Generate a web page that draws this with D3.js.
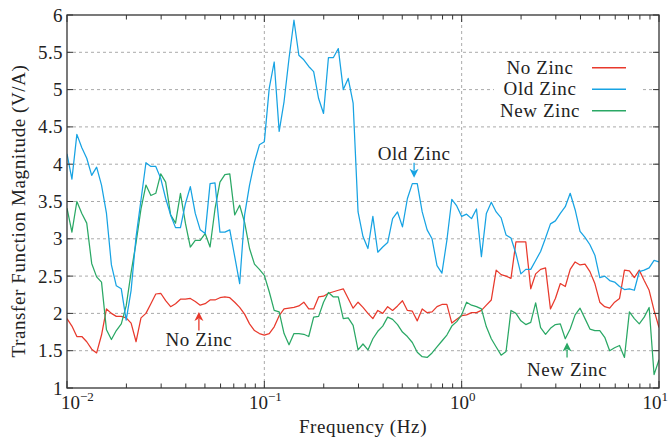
<!DOCTYPE html>
<html><head><meta charset="utf-8">
<script src="https://cdn.jsdelivr.net/npm/d3@7"></script>
<style>
html,body{margin:0;padding:0;background:#fff;}
</style></head>
<body>
<script>
// Frequency grid (Hz)
const freq = [0.01000,0.01059,0.01122,0.01189,0.01259,0.01334,0.01413,0.01496,0.01585,0.01679,
0.01778,0.01884,0.01995,0.02113,0.02239,0.02371,0.02512,0.02661,0.02818,0.02985,
0.03162,0.03350,0.03548,0.03758,0.03981,0.04217,0.04467,0.04732,0.05012,0.05309,
0.05623,0.05957,0.06310,0.06683,0.07079,0.07499,0.07943,0.08414,0.08913,0.09441,
0.1000,0.1059,0.1122,0.1189,0.1259,0.1334,0.1413,0.1496,0.1585,0.1679,
0.1778,0.1884,0.1995,0.2113,0.2239,0.2371,0.2512,0.2661,0.2818,0.2985,
0.3162,0.3350,0.3548,0.3758,0.3981,0.4217,0.4467,0.4732,0.5012,0.5309,
0.5623,0.5957,0.6310,0.6683,0.7079,0.7499,0.7943,0.8414,0.8913,0.9441,
1.000,1.059,1.122,1.189,1.259,1.334,1.413,1.496,1.585,1.679,
1.778,1.884,1.995,2.113,2.239,2.371,2.512,2.661,2.818,2.985,
3.162,3.350,3.548,3.758,3.981,4.217,4.467,4.732,5.012,5.309,
5.623,5.957,6.310,6.683,7.079,7.499,7.943,8.414,8.913,9.441,
10.00];

const noZinc = [1.93,1.83,1.69,1.69,1.62,1.52,1.47,1.71,2.06,2.00,
1.96,1.96,1.94,1.87,1.62,1.94,2.00,2.13,2.26,2.27,
2.17,2.09,2.13,2.19,2.19,2.20,2.16,2.11,2.13,2.18,
2.18,2.21,2.22,2.21,2.15,2.08,1.99,1.86,1.77,1.73,
1.71,1.73,1.82,1.97,2.06,2.07,2.08,2.10,2.15,2.06,
2.06,2.22,2.23,2.27,2.29,2.31,2.33,2.20,2.07,2.15,
2.08,2.00,1.93,2.04,2.00,2.09,2.04,2.10,2.17,2.04,
2.03,1.90,2.06,2.01,2.02,2.09,2.12,2.12,1.87,1.92,
1.97,1.98,2.01,2.01,2.04,2.11,2.18,2.58,2.52,2.50,
2.47,2.96,2.96,2.96,2.33,2.53,2.59,2.61,2.06,2.20,
2.40,2.36,2.59,2.69,2.65,2.66,2.56,2.40,2.15,2.09,
2.07,2.15,2.20,2.58,2.57,2.48,2.58,2.44,2.31,2.04,
1.81];

const oldZinc = [4.14,3.80,4.40,4.22,4.08,3.85,3.96,3.72,3.34,2.65,
2.37,2.33,1.91,2.31,3.03,3.52,4.02,3.97,3.97,3.81,
3.54,3.32,3.15,3.15,3.47,3.70,3.34,3.12,3.07,3.74,
3.75,3.09,3.09,3.12,2.76,2.40,3.32,3.72,4.03,4.26,
4.30,5.02,5.37,4.44,4.84,5.42,5.93,5.46,5.40,5.31,
5.24,4.88,4.68,5.43,5.43,5.55,5.00,5.15,4.82,3.36,
3.03,2.87,3.30,2.82,2.89,2.95,3.27,3.36,3.16,3.54,
3.74,3.74,3.36,3.12,3.00,2.64,2.54,2.98,3.53,3.44,
3.30,3.33,3.27,3.40,2.76,3.34,3.49,3.36,3.28,3.05,
3.01,2.80,2.53,2.59,2.59,2.71,2.83,3.01,3.20,3.24,
3.34,3.43,3.61,3.39,3.10,3.02,2.92,2.78,2.48,2.50,
2.44,2.42,2.36,2.32,2.33,2.31,2.56,2.58,2.61,2.71,
2.69];

const newZinc = [3.41,3.09,3.50,3.34,3.21,2.67,2.49,2.42,1.78,1.65,
1.77,1.86,2.10,2.55,2.95,3.40,3.72,3.58,3.61,3.87,
3.76,3.32,3.21,3.61,3.21,2.89,2.98,2.98,3.07,2.89,
3.40,3.76,3.86,3.87,3.32,3.45,3.22,2.87,2.66,2.59,
2.51,2.29,2.04,2.02,1.73,1.58,1.73,1.73,1.72,1.69,
1.95,1.96,2.15,2.28,2.22,2.22,1.93,1.94,1.84,1.51,
1.59,1.51,1.66,1.76,1.83,1.95,1.92,1.85,1.75,1.69,
1.61,1.48,1.42,1.41,1.47,1.55,1.63,1.71,1.83,1.89,
1.98,2.15,2.11,2.09,2.06,1.82,1.66,1.55,1.44,1.49,
2.04,2.00,1.90,1.85,1.88,2.14,1.81,1.72,1.80,1.85,
1.86,1.66,1.79,1.98,2.07,1.93,1.79,1.77,1.77,1.68,
1.50,1.54,1.57,1.41,2.02,1.93,1.86,1.95,2.08,1.18,
1.38];

const seriesNames = ["No Zinc","Old Zinc","New Zinc"];
const seriesColors = ["#e8392c","#17a3e3","#2aa865"];
const yTicks = [1,1.5,2,2.5,3,3.5,4,4.5,5,5.5,6];
const xMajor = [0.01,0.1,1,10];
const xMajorExp = ["−2","−1","0","1"];
// annotations: label, frequency, arrow tail value, arrow tip value, label baseline value, series index
const annotations = [
  {label:"No Zinc", f:0.0466, from:1.77, to:2.02, text:1.56, c:0},
  {label:"Old Zinc", f:0.574, from:4.02, to:3.82, text:4.06, c:1},
  {label:"New Zinc", f:3.42, from:1.41, to:1.61, text:1.16, c:2}
];

const FONT = "'Liberation Serif','DejaVu Serif','Times New Roman',serif";
const W=669,H=445;
const svg=d3.select("body").append("svg").attr("width",W).attr("height",H)
  .attr("font-family",FONT);
const x=d3.scaleLog().domain([0.01,10]).range([67,659]);
const y=d3.scaleLinear().domain([1,6]).range([388,15]);

function txt(sel){return sel.append("text").attr("font-family",FONT).attr("fill","#222");}

// grid
svg.append("g").selectAll("line").data(yTicks.filter(d=>d>1&&d<6)).join("line")
 .attr("x1",x(0.01)).attr("x2",x(10)).attr("y1",d=>y(d)).attr("y2",d=>y(d))
 .attr("stroke","#a0a0a0").attr("stroke-width",0.9).attr("stroke-dasharray","3,3");
svg.append("g").selectAll("line").data([0.1,1]).join("line")
 .attr("x1",d=>x(d)).attr("x2",d=>x(d)).attr("y1",y(1)).attr("y2",y(6))
 .attr("stroke","#a0a0a0").attr("stroke-width",0.9).attr("stroke-dasharray","3,3");

// lines
const data=[noZinc,oldZinc,newZinc];
const line=d3.line().x((d,i)=>x(freq[i])).y(d=>y(d));
svg.append("clipPath").attr("id","pc").append("rect")
 .attr("x",x(0.01)).attr("y",y(6)).attr("width",x(10)-x(0.01)).attr("height",y(1)-y(6));
const lg=svg.append("g").attr("clip-path","url(#pc)");
[0,2,1].forEach(i=>{
 lg.append("path").datum(data[i]).attr("d",line).attr("fill","none")
  .attr("stroke",seriesColors[i]).attr("stroke-width",1.25).attr("stroke-linejoin","round");
});

// annotations
annotations.forEach(a=>{
 const col=seriesColors[a.c];
 const xx=x(a.f), y1=y(a.from), y2=y(a.to);
 const dir = y2<y1 ? -1 : 1;
 svg.append("line").attr("x1",xx).attr("x2",xx).attr("y1",y1).attr("y2",y2-dir*7)
  .attr("stroke",col).attr("stroke-width",1.3);
 svg.append("path").attr("d",`M${xx},${y2} L${xx-4.5},${y2-dir*9} L${xx},${y2-dir*6.5} L${xx+4.5},${y2-dir*9} Z`)
  .attr("fill",col);
 txt(svg).attr("x",xx).attr("y",y(a.text)).attr("text-anchor","middle")
  .attr("font-size",19).attr("letter-spacing",0.6).text(a.label);
});

// legend
const lgx=540;
svg.append("rect").attr("x",494).attr("y",56).attr("width",146).attr("height",66).attr("fill","#fff");
seriesNames.forEach((n,i)=>{
 const yy=67.7+i*21.5;
 txt(svg).attr("x",lgx).attr("y",yy+6).attr("text-anchor","middle")
  .attr("font-size",19).attr("letter-spacing",0.6).text(n);
 svg.append("line").attr("x1",592).attr("x2",626).attr("y1",yy).attr("y2",yy)
  .attr("stroke",seriesColors[i]).attr("stroke-width",1.4);
});

// frame
const ax="#333";
svg.append("rect").attr("x",x(0.01)).attr("y",y(6)).attr("width",x(10)-x(0.01)).attr("height",y(1)-y(6))
 .attr("fill","none").attr("stroke",ax).attr("stroke-width",1.3);
x.ticks().forEach(t=>{
 const maj=xMajor.some(m=>Math.abs(m-t)/m<1e-6);
 const len=maj?7:4.5;
 svg.append("line").attr("x1",x(t)).attr("x2",x(t)).attr("y1",y(1)).attr("y2",y(1)-len).attr("stroke",ax).attr("stroke-width",1);
 svg.append("line").attr("x1",x(t)).attr("x2",x(t)).attr("y1",y(6)).attr("y2",y(6)+len).attr("stroke",ax).attr("stroke-width",1);
});
yTicks.forEach(t=>{
 svg.append("line").attr("x1",x(0.01)).attr("x2",x(0.01)+6).attr("y1",y(t)).attr("y2",y(t)).attr("stroke",ax).attr("stroke-width",1);
 svg.append("line").attr("x1",x(10)).attr("x2",x(10)-6).attr("y1",y(t)).attr("y2",y(t)).attr("stroke",ax).attr("stroke-width",1);
 txt(svg).attr("x",63).attr("y",y(t)+6.5).attr("text-anchor","end").attr("font-size",19)
  .attr("letter-spacing",0.4).text(String(t));
});
xMajor.forEach((m,i)=>{
 const t=txt(svg).attr("y",409).attr("font-size",19);
 if(i===0){t.attr("x",61).attr("text-anchor","start");}
 else if(i===xMajor.length-1){t.attr("x",668).attr("text-anchor","end");}
 else{t.attr("x",x(m)+1).attr("text-anchor","middle");}
 t.append("tspan").text("10");
 t.append("tspan").attr("font-size",13).attr("dy",-8).text(xMajorExp[i]);
});
// titles
txt(svg).attr("x",363).attr("y",433).attr("text-anchor","middle").attr("font-size",19)
 .attr("letter-spacing",0.6).text("Frequency (Hz)");
txt(svg).attr("transform","translate(25,211) rotate(-90)").attr("text-anchor","middle")
 .attr("font-size",19).attr("letter-spacing",0.6).text("Transfer Function Magnitude (V/A)");
</script>
</body></html>
